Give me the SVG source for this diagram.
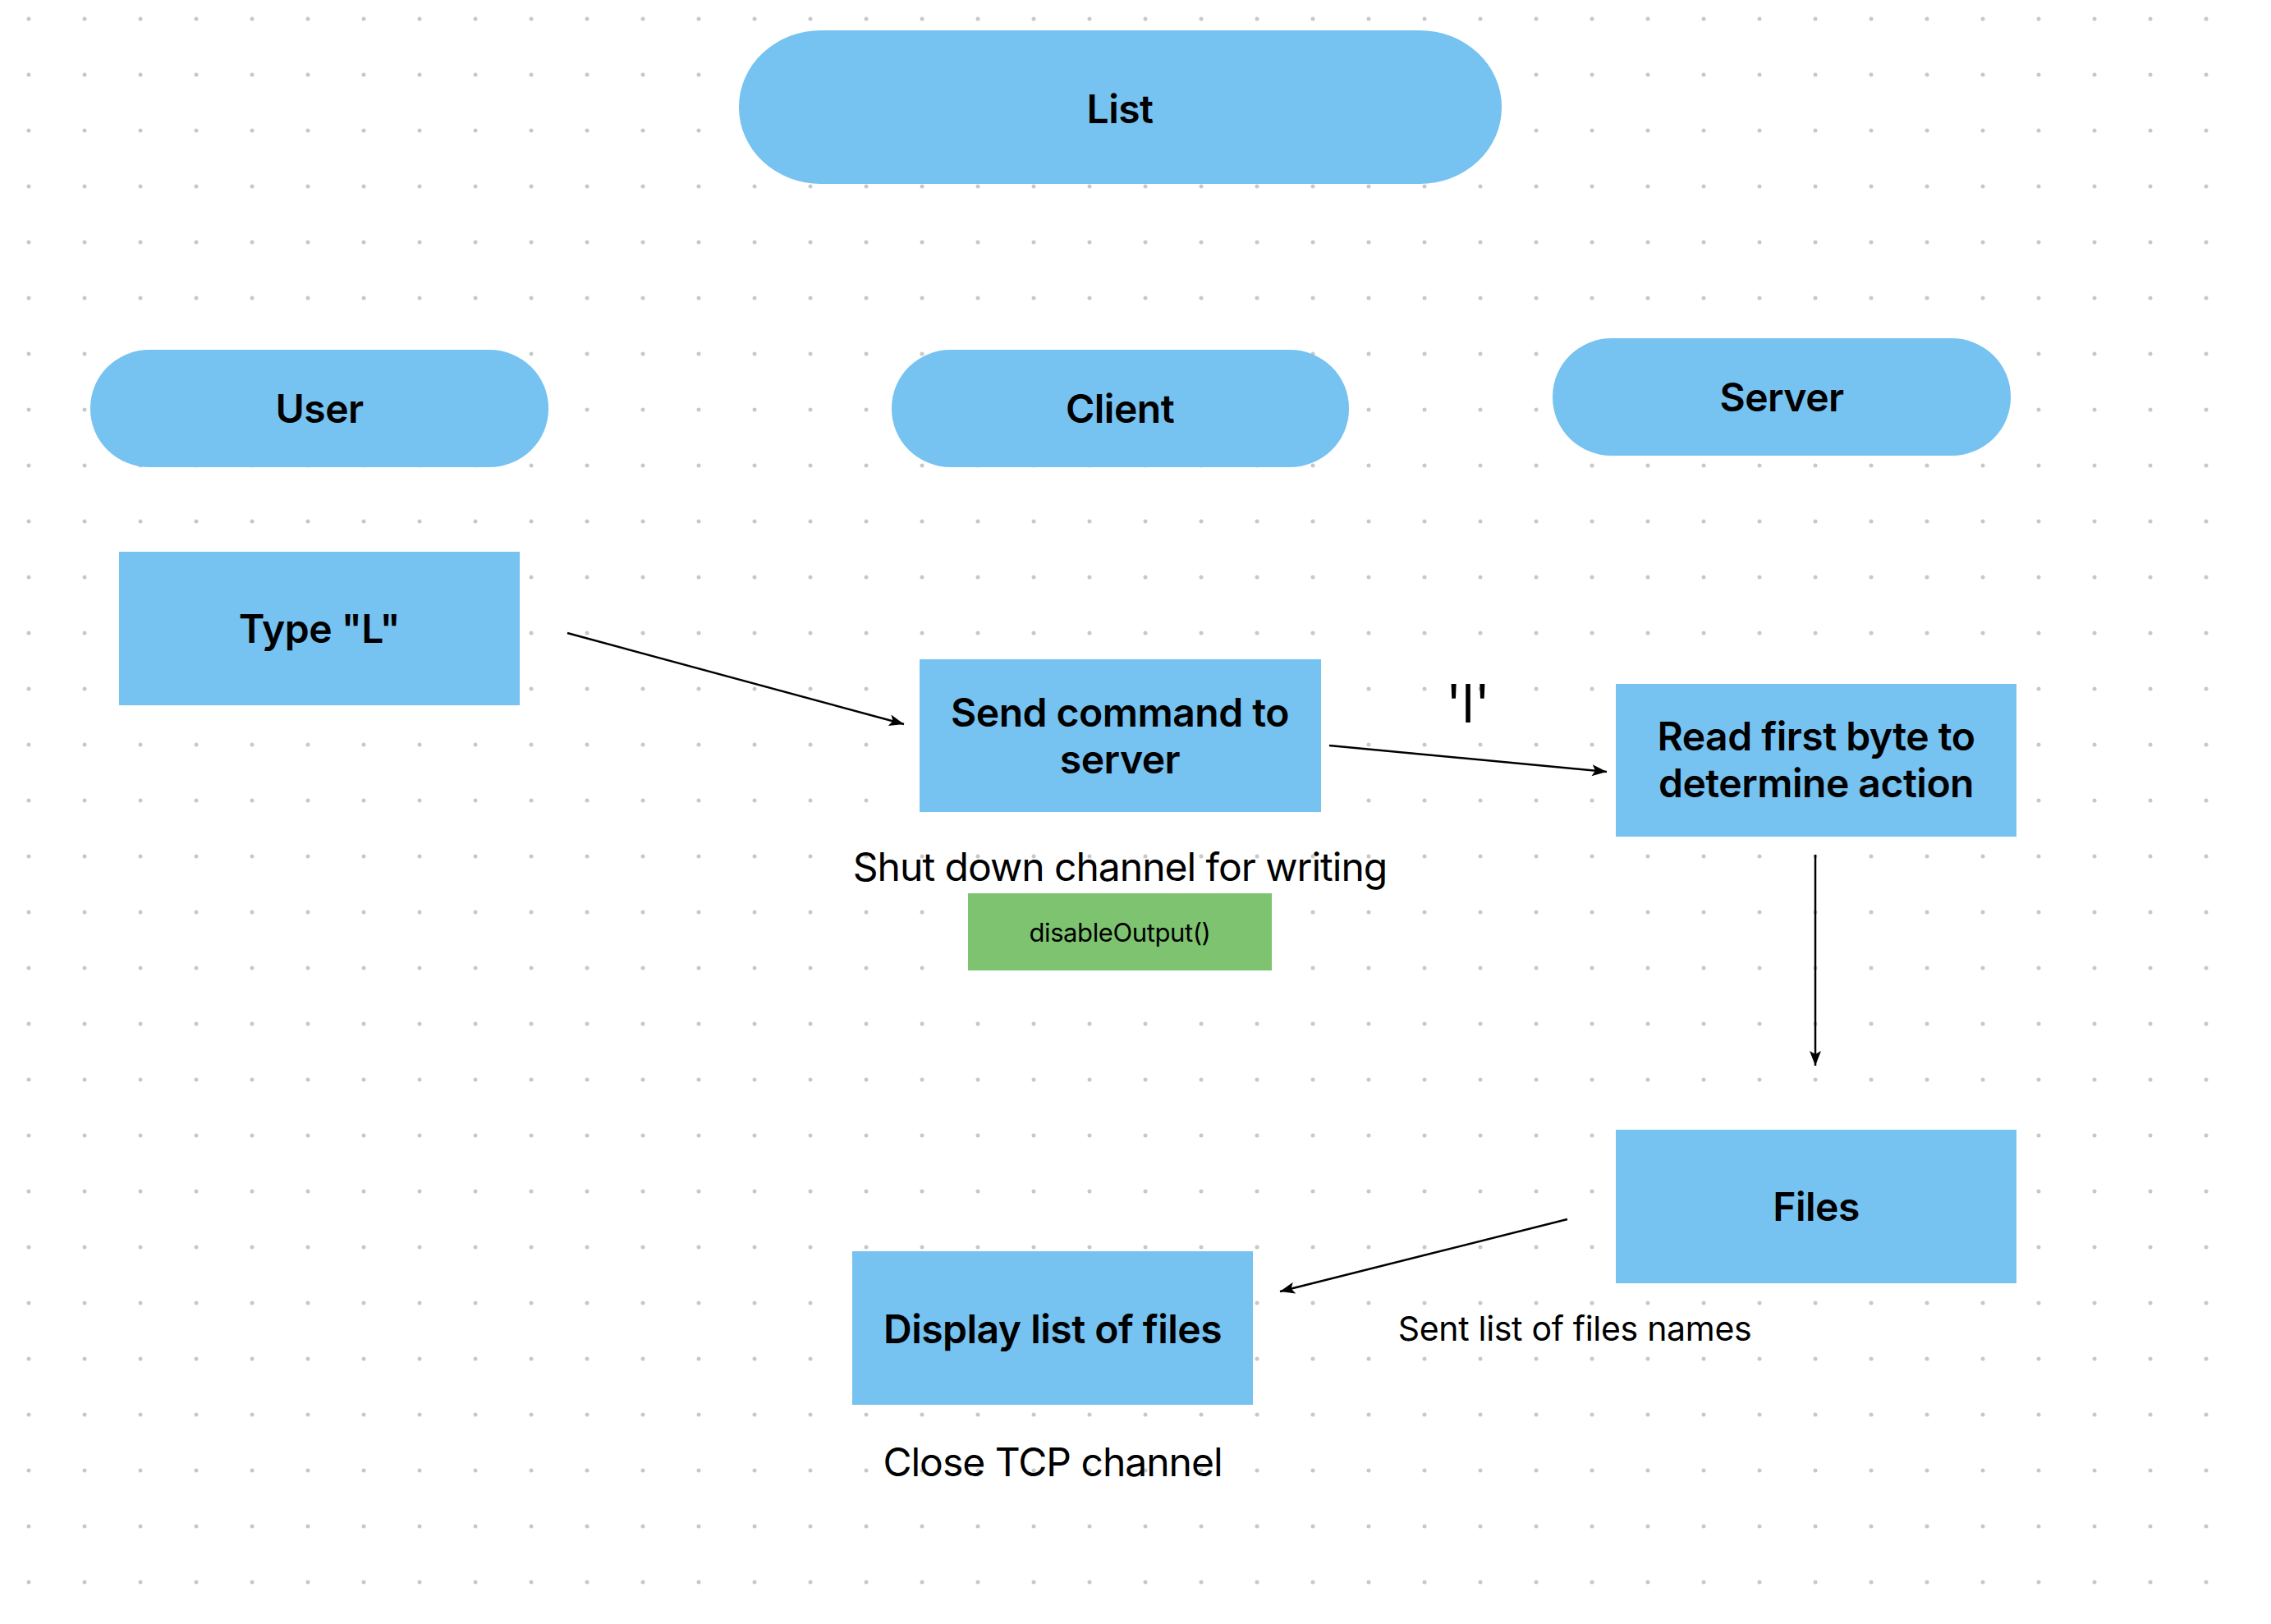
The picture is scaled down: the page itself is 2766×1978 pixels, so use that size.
<svg xmlns="http://www.w3.org/2000/svg" width="2766" height="1978" viewBox="0 0 2766 1978">
<defs>
<style>
.node{fill:#76C2F0}
.green{fill:#7DC370}
.t{font-family:Inter,"Liberation Sans",sans-serif;font-weight:600;font-size:48px;fill:#000;text-anchor:middle;letter-spacing:-0.5px}
.r{font-family:Inter,"Liberation Sans",sans-serif;font-weight:400;font-size:48px;fill:#000;text-anchor:middle;letter-spacing:-1px}
.conn{stroke:#000;stroke-width:2.5;fill:none;marker-end:url(#ah)}
</style>
<pattern id="dots" x="0" y="0" width="68" height="68" patternUnits="userSpaceOnUse">
<circle cx="35" cy="23" r="2.5" fill="#C8C8C8"/>
</pattern>
<marker id="ah" markerUnits="userSpaceOnUse" markerWidth="20" markerHeight="16" viewBox="0 0 20 16" refX="18" refY="8" orient="auto">
<path d="M0,1 L18,8 L0,15 L4,8 z" fill="#000"/>
</marker>
</defs>
<rect width="2766" height="1978" fill="#FFFFFF"/>
<rect x="0" y="0" width="2720" height="1960" fill="url(#dots)"/>

<g id="connectors">
<line class="conn" x1="691" y1="771" x2="1101" y2="882"/>
<line class="conn" x1="1619" y1="908" x2="1957" y2="940"/>
<line class="conn" x1="2211" y1="1041" x2="2211" y2="1298"/>
<line class="conn" x1="1909" y1="1485" x2="1559" y2="1573"/>
</g>

<g id="list">
<rect class="node" x="900" y="37" width="929" height="187" rx="100" ry="93"/>
<text class="t" x="1364" y="150">List</text>
</g>
<g id="user">
<rect class="node" x="110" y="426" width="558" height="143" rx="72" ry="71"/>
<text class="t" x="389" y="515">User</text>
</g>
<g id="client">
<rect class="node" x="1086" y="426" width="557" height="143" rx="72" ry="71"/>
<text class="t" x="1364" y="515">Client</text>
</g>
<g id="server">
<rect class="node" x="1891" y="412" width="558" height="143" rx="72" ry="71"/>
<text class="t" x="2170" y="501">Server</text>
</g>
<g id="type-l">
<rect class="node" x="145" y="672" width="488" height="187"/>
<text class="t" x="389" y="783">Type "L"</text>
</g>
<g id="send-command">
<rect class="node" x="1120" y="803" width="489" height="186"/>
<text class="t" x="1364" y="885">Send command to</text>
<text class="t" x="1364" y="942">server</text>
</g>
<g id="shutdown-label">
<text class="r" x="1364" y="1073">Shut down channel for writing</text>
</g>
<g id="disable-output">
<rect class="green" x="1179" y="1088" width="370" height="94"/>
<text class="r" x="1364" y="1147" style="font-size:31px;letter-spacing:-0.4px">disableOutput()</text>
</g>
<g id="l-label">
<text class="r" x="1788" y="880" style="font-size:64px;letter-spacing:0">'l'</text>
</g>
<g id="read-first-byte">
<rect class="node" x="1968" y="833" width="488" height="186"/>
<text class="t" x="2212" y="914">Read first byte to</text>
<text class="t" x="2212" y="971">determine action</text>
</g>
<g id="files">
<rect class="node" x="1968" y="1376" width="488" height="187"/>
<text class="t" x="2212" y="1487">Files</text>
</g>
<g id="display-list">
<rect class="node" x="1038" y="1524" width="488" height="187"/>
<text class="t" x="1282" y="1636">Display list of files</text>
</g>
<g id="sent-label">
<text class="r" x="1918" y="1633" style="font-size:41px;letter-spacing:-0.3px">Sent list of files names</text>
</g>
<g id="close-label">
<text class="r" x="1282" y="1798">Close TCP channel</text>
</g>
</svg>
